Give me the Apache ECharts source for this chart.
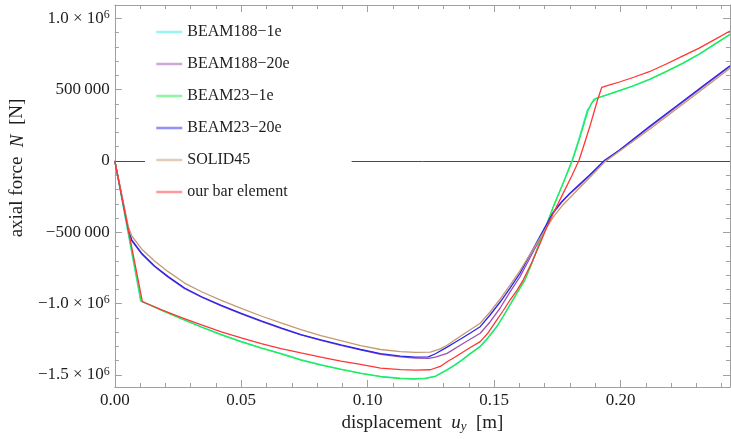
<!DOCTYPE html>
<html><head><meta charset="utf-8">
<script src="https://cdn.jsdelivr.net/npm/echarts@6/dist/echarts.min.js"></script>
<style>html,body{margin:0;padding:0;background:#fff}#c{width:731px;height:439px}</style>
</head><body><div id="c"></div>
<script>
// ---- data ----
const seriesNames = ['BEAM188\u22121e','BEAM188\u221220e','BEAM23\u22121e','BEAM23\u221220e','SOLID45','our bar element'];
const beam188_1e = [[0,0],[0.0102,-983000],[0.0185,-1044000],[0.0264,-1105000],[0.0343,-1163000],[0.0421,-1216000],[0.0500,-1265000],[0.0579,-1310000],[0.0657,-1350000],[0.0736,-1393000],[0.0815,-1428000],[0.0894,-1459000],[0.0972,-1487000],[0.1051,-1510000],[0.1130,-1523000],[0.1181,-1526000],[0.1228,-1523000],[0.1268,-1508000],[0.1314,-1463000],[0.1346,-1428000],[0.1374,-1393000],[0.1406,-1349000],[0.1445,-1299000],[0.1476,-1238000],[0.1511,-1159000],[0.1535,-1091000],[0.1563,-1007000],[0.1591,-923000],[0.1622,-832000],[0.1650,-712000],[0.1681,-565000],[0.1709,-440000],[0.1734,-320000],[0.1772,-158000],[0.1809,8000],[0.1837,165000],[0.1868,355000],[0.1878,381000],[0.1895,434000],[0.1937,458000],[0.1983,484000],[0.2047,524000],[0.2114,571000],[0.2181,626000],[0.2245,683000],[0.2311,748000],[0.2377,823000],[0.2433,886000]];
const beam188_20e = [[0,0],[0.0054,-490000],[0.0067,-560000],[0.0106,-652000],[0.0157,-740000],[0.0211,-815000],[0.0276,-895000],[0.0343,-955000],[0.0421,-1016000],[0.0500,-1072000],[0.0579,-1125000],[0.0657,-1174000],[0.0736,-1220000],[0.0815,-1258000],[0.0894,-1293000],[0.0972,-1325000],[0.1051,-1356000],[0.1130,-1374000],[0.1189,-1382000],[0.1240,-1384000],[0.1268,-1375000],[0.1314,-1349000],[0.1374,-1283000],[0.1445,-1208000],[0.1484,-1129000],[0.1524,-1031000],[0.1563,-918000],[0.1602,-813000],[0.1669,-589000],[0.1734,-365000],[0.1768,-288000],[0.1799,-231000],[0.1839,-168000],[0.1878,-102000],[0.1937,-5000],[0.2114,235000],[0.2331,526000],[0.2433,663000]];
const beam23_1e = [[0,0],[0.0104,-980000],[0.0185,-1047000],[0.0264,-1108000],[0.0343,-1166000],[0.0421,-1219000],[0.0500,-1268000],[0.0579,-1313000],[0.0657,-1353000],[0.0736,-1396000],[0.0815,-1431000],[0.0894,-1462000],[0.0972,-1490000],[0.1051,-1513000],[0.1130,-1526000],[0.1181,-1529000],[0.1228,-1526000],[0.1268,-1511000],[0.1314,-1466000],[0.1346,-1431000],[0.1374,-1396000],[0.1406,-1352000],[0.1445,-1302000],[0.1476,-1241000],[0.1511,-1162000],[0.1535,-1094000],[0.1563,-1010000],[0.1591,-926000],[0.1622,-835000],[0.1650,-715000],[0.1681,-568000],[0.1709,-442000],[0.1734,-323000],[0.1772,-161000],[0.1810,5000],[0.1839,161000],[0.1871,351000],[0.1886,407000],[0.1904,440000],[0.1937,459000],[0.1983,486000],[0.2047,526000],[0.2114,573000],[0.2181,628000],[0.2245,685000],[0.2311,750000],[0.2377,825000],[0.2433,889000]];
const beam23_20e = [[0,0],[0.0054,-484000],[0.0067,-554000],[0.0106,-647000],[0.0157,-736000],[0.0211,-811000],[0.0276,-891000],[0.0343,-952000],[0.0421,-1013000],[0.0500,-1069000],[0.0579,-1122000],[0.0657,-1171000],[0.0736,-1217000],[0.0815,-1255000],[0.0894,-1290000],[0.0972,-1322000],[0.1051,-1351000],[0.1130,-1369000],[0.1189,-1376000],[0.1240,-1374000],[0.1268,-1352000],[0.1314,-1305000],[0.1346,-1271000],[0.1374,-1241000],[0.1406,-1206000],[0.1445,-1162000],[0.1484,-1080000],[0.1524,-989000],[0.1563,-891000],[0.1602,-788000],[0.1669,-568000],[0.1734,-358000],[0.1768,-284000],[0.1799,-227000],[0.1839,-161000],[0.1878,-98000],[0.1937,5000],[0.1996,77000],[0.2114,242000],[0.2232,400000],[0.2331,533000],[0.2433,668000]];
const solid45 = [[0,0],[0.0054,-463000],[0.0067,-526000],[0.0106,-617000],[0.0157,-701000],[0.0211,-776000],[0.0276,-856000],[0.0343,-917000],[0.0421,-978000],[0.0500,-1034000],[0.0579,-1087000],[0.0657,-1136000],[0.0736,-1182000],[0.0815,-1224000],[0.0894,-1260000],[0.0972,-1295000],[0.1051,-1322000],[0.1130,-1337000],[0.1189,-1342000],[0.1248,-1341000],[0.1287,-1318000],[0.1314,-1292000],[0.1374,-1220000],[0.1445,-1138000],[0.1484,-1059000],[0.1524,-968000],[0.1563,-870000],[0.1602,-771000],[0.1669,-575000],[0.1734,-393000],[0.1768,-316000],[0.1799,-259000],[0.1839,-186000],[0.1878,-116000],[0.1937,-7000],[0.2114,221000],[0.2331,512000],[0.2433,650000]];
const ourBar = [[0,0],[0.0109,-987000],[0.0185,-1044000],[0.0264,-1098000],[0.0343,-1150000],[0.0421,-1198000],[0.0500,-1241000],[0.0579,-1281000],[0.0657,-1316000],[0.0736,-1346000],[0.0815,-1375000],[0.0894,-1403000],[0.0972,-1427000],[0.1051,-1452000],[0.1130,-1463000],[0.1189,-1466000],[0.1248,-1464000],[0.1287,-1441000],[0.1314,-1408000],[0.1346,-1375000],[0.1374,-1343000],[0.1406,-1308000],[0.1445,-1267000],[0.1476,-1206000],[0.1511,-1115000],[0.1535,-1052000],[0.1563,-975000],[0.1591,-905000],[0.1615,-835000],[0.1650,-708000],[0.1681,-582000],[0.1709,-463000],[0.1734,-367000],[0.1773,-227000],[0.1807,-105000],[0.1836,5000],[0.1858,126000],[0.1878,238000],[0.1909,428000],[0.1926,517000],[0.1957,533000],[0.1996,554000],[0.2055,589000],[0.2114,626000],[0.2181,680000],[0.2245,736000],[0.2311,792000],[0.2370,849000],[0.2433,912000]];
const seriesData = [beam188_1e, beam188_20e, beam23_1e, beam23_20e, solid45, ourBar];
const seriesColors = ['#2fe8ea','#a050b4','#22ee44','#2626ee','#c49a72','#ff3636'];

const xMin = 0, xMax = 0.2433;
const yMin = -1585000, yMax = 1094000;
const xTickValues = [0, 0.05, 0.10, 0.15, 0.20];
const xTickLabels = ['0.00', '0.05', '0.10', '0.15', '0.20'];
const xMinorValues = [0.01,0.02,0.03,0.04,0.06,0.07,0.08,0.09,0.11,0.12,0.13,0.14,0.16,0.17,0.18,0.19,0.21,0.22,0.23,0.24];
const yTickValues = [-1500000, -1000000, -500000, 0, 500000, 1000000];
const yTickLabels = ['\u22121.5 \u00d7 10{sup|6}', '\u22121.0 \u00d7 10{sup|6}', '\u2212500\u2009000', '0', '500\u2009000', '1.0 \u00d7 10{sup|6}'];
const yMinorValues = [-1400000,-1300000,-1200000,-1100000,-900000,-800000,-700000,-600000,-400000,-300000,-200000,-100000,100000,200000,300000,400000,600000,700000,800000,900000];

// ---- chart ----
const FONT = 'Liberation Serif';
const GRAY = '#a0a0a0';
const TXT = '#1e1e1e';
function lookup(vals, labels, v) {
  for (let i = 0; i < vals.length; i++) if (Math.abs(vals[i] - v) < 1e-9 * Math.max(1, Math.abs(v))) return labels[i];
  return '';
}
function xAx(pos, major, showLine, withLabel) {
  const a = {
    type: 'value', min: xMin, max: xMax, position: pos,
    axisLine: { show: showLine, onZero: false, lineStyle: { color: GRAY, width: 1 } },
    splitLine: { show: false },
    axisTick: { show: true, inside: true, length: major ? 7 : 4, customValues: major ? xTickValues : xMinorValues, lineStyle: { color: GRAY } },
    axisLabel: { show: false }
  };
  if (withLabel) {
    a.axisLabel = { show: true, customValues: xTickValues, formatter: v => lookup(xTickValues, xTickLabels, v), margin: 5, fontFamily: FONT, fontSize: 17, color: TXT };
    a.name = 'displacement  {i|u}{sub|y}  [m]';
    a.nameLocation = 'middle';
    a.nameGap = 19;
    a.nameTextStyle = { fontFamily: FONT, fontSize: 19, color: TXT,
      rich: { i: { fontFamily: FONT, fontSize: 19, fontStyle: 'italic', color: TXT },
              sub: { fontFamily: FONT, fontSize: 13, fontStyle: 'italic', color: TXT, verticalAlign: 'bottom', padding: [7, 0, 0, 0] } } };
  }
  return a;
}
function yAx(pos, major, showLine, withLabel) {
  const a = {
    type: 'value', min: yMin, max: yMax, position: pos,
    axisLine: { show: showLine, onZero: false, lineStyle: { color: GRAY, width: 1 } },
    splitLine: { show: false },
    axisTick: { show: true, inside: true, length: major ? 7 : 4, customValues: major ? yTickValues : yMinorValues, lineStyle: { color: GRAY } },
    axisLabel: { show: false }
  };
  if (withLabel) {
    a.axisLabel = { show: true, customValues: yTickValues, formatter: v => lookup(yTickValues, yTickLabels, v), margin: 5, fontFamily: FONT, fontSize: 17, color: TXT,
      rich: { sup: { fontFamily: FONT, fontSize: 12, color: TXT, verticalAlign: 'top', padding: [0, 0, 7, 0] } } };
    a.name = 'axial force  {i|N}  [N]';
    a.nameLocation = 'middle';
    a.nameGap = 83;
    a.nameTextStyle = { fontFamily: FONT, fontSize: 19, color: TXT, padding: [0, 0, 0, 56],
      rich: { i: { fontFamily: FONT, fontSize: 19, fontStyle: 'italic', color: TXT } } };
  }
  return a;
}

const series = seriesNames.map((n, i) => ({
  name: n, type: 'line', data: seriesData[i], symbol: 'none', smooth: false,
  xAxisIndex: 0, yAxisIndex: 0,
  lineStyle: { color: seriesColors[i], width: 1.3 },
  itemStyle: { color: seriesColors[i] },
  z: 2 + i
}));
series[0].markLine = {
  silent: true, symbol: ['none', 'none'], label: { show: false },
  lineStyle: { color: '#4a4a4a', width: 1, type: 'solid' },
  data: [{ yAxis: 0 }], z: 1
};

const chart = echarts.init(document.getElementById('c'), null, { renderer: 'canvas' });
chart.setOption({
  animation: false,
  backgroundColor: '#fff',
  grid: { left: 113, right: 1, top: 5, bottom: 52, containLabel: false },
  xAxis: [xAx('bottom', true, true, true), xAx('bottom', false, false, false), xAx('top', true, true, false), xAx('top', false, false, false)],
  yAxis: [yAx('left', true, true, true), yAx('left', false, false, false), yAx('right', true, true, false), yAx('right', false, false, false)],
  legend: {
    orient: 'vertical', left: 145, top: 12, padding: [12, 62, 10, 10],
    itemWidth: 26, itemHeight: 14, itemGap: 16,
    backgroundColor: '#fff',
    textStyle: { fontFamily: FONT, fontSize: 16, color: TXT, lineHeight: 16 },
    lineStyle: { width: 2.5, opacity: 0.5 },
    itemStyle: { opacity: 0 },
    data: seriesNames
  },
  series: series
});
</script></body></html>
